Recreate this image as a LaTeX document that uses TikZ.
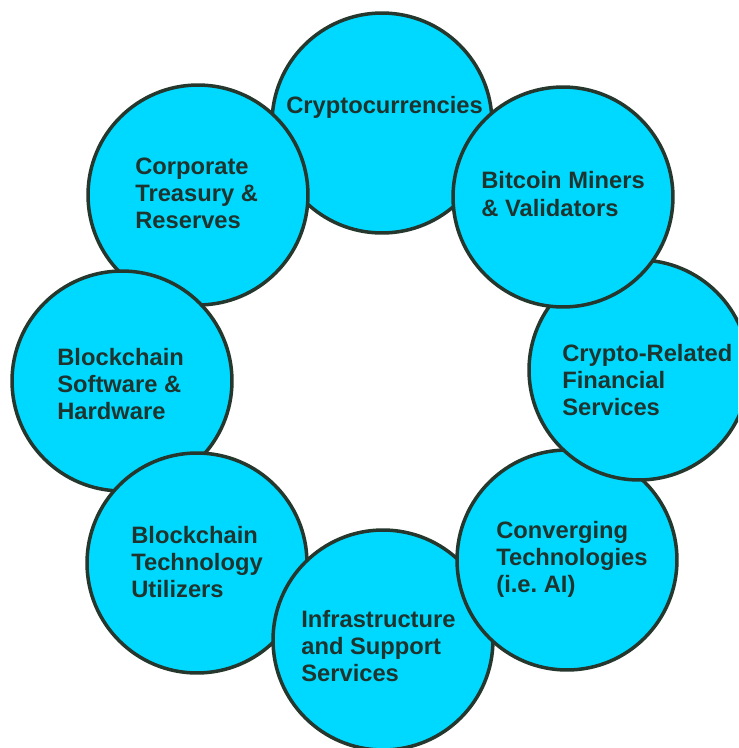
\documentclass[tikz,border=0pt]{standalone}
\usepackage{fontspec}
\setmainfont{Liberation Sans}
\usetikzlibrary{calc}
\definecolor{bubble}{RGB}{0,217,255}
\definecolor{rim}{RGB}{38,56,46}
\definecolor{ink}{RGB}{30,52,46}

\begin{document}
\begin{tikzpicture}[x=0.02cm, y=-0.02cm,
        sector/.style={circle, draw=rim, fill=bubble, line width=2pt, minimum size=4.4cm, inner sep=0pt},
        caption/.style={anchor=west, align=left, text=ink, inner sep=0pt,
            font=\fontsize{13.5}{15.4}\selectfont\bfseries\frenchspacing}]
            \useasboundingbox (0, 0) rectangle (738, 748);
            \clip (0, 0) rectangle (738, 748);
            % ring of sectors, lowest one first
            \node[sector] (crypto) at (382, 123) {};
            \node[sector] (treasury) at (198, 195) {};
            \node[sector] (software) at (122, 381) {};
            \node[sector] (utilizers) at (197, 563) {};
            \node[sector] (infra) at (383, 640) {};
            \node[sector] (converging) at (567, 560) {};
            \node[sector] (finance) at (639, 370) {};
            \node[sector] (miners) at (563, 197) {};
            % labels
            \node[caption] (cryptotext) at (286, 107) {Cryptocurrencies};
            \node[caption] (treasurytext) at (135, 193) {Corporate\\Treasury \&\\Reserves};
            \node[caption] (softwaretext) at (57, 384) {Blockchain\\Software \&\\Hardware};
            \node[caption] (utilizerstext) at (131, 562) {Blockchain\\Technology\\Utilizers};
            \node[caption] (infratext) at (301, 646) {Infrastructure\\and Support\\Services};
            \node[caption] (convergingtext) at (496, 559) {Converging\\Technologies\\(i.e. AI)};
            \node[caption] (financetext) at (562, 380) {Crypto-Related\\Financial\\Services};
            \node[caption] (minerstext) at (481, 194) {Bitcoin Miners\\\& Validators};
        \end{tikzpicture}
\end{document}
